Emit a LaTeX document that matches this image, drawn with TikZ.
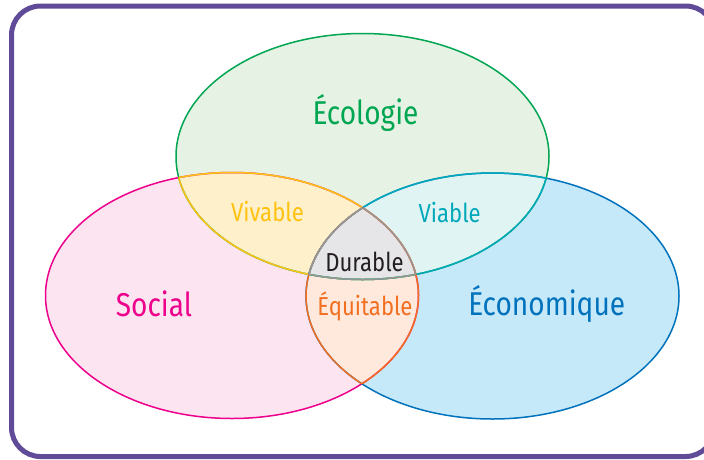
\documentclass[tikz,border=0pt]{standalone}
\usepackage{fontspec}
\setmainfont{Fira Sans}[FakeStretch=0.85]
\definecolor{gfill}{RGB}{230,242,228}
\definecolor{pfill}{RGB}{252,228,240}
\definecolor{bfill}{RGB}{198,233,250}
\definecolor{yfill}{RGB}{255,240,204}
\definecolor{tfill}{RGB}{224,244,243}
\definecolor{ofill}{RGB}{255,233,220}
\definecolor{dfill}{RGB}{230,230,232}
\definecolor{gline}{RGB}{0,166,81}
\definecolor{pline}{RGB}{236,0,140}
\definecolor{bline}{RGB}{0,114,188}
\definecolor{yline}{RGB}{255,194,14}
\definecolor{tline}{RGB}{0,168,186}
\definecolor{oline}{RGB}{242,111,33}
\definecolor{dline}{RGB}{150,150,152}
\definecolor{dtext}{RGB}{35,31,32}
\definecolor{frame}{RGB}{95,75,152}
\begin{document}
\begin{tikzpicture}[x=1pt,y=-1pt,
  edge/.style={line width=1.5pt},
  biglbl/.style={anchor=base,inner sep=0pt,font=\fontsize{33}{40}\selectfont},
  smalllbl/.style={anchor=base,inner sep=0pt,font=\fontsize{26}{32}\selectfont},
  framebox/.style={draw=frame,line width=5pt,rounded corners=29pt}]
\useasboundingbox (0,0) rectangle (704,459);
\clip (0,0) rectangle (704,459);
\fill[white] (0,0) rectangle (704,459);
\def\Gp{(362.5,156.5) ellipse [x radius=186.5pt, y radius=123pt]}
\def\Pp{(232,295.5) ellipse [x radius=186.5pt, y radius=123pt]}
\def\Bp{(492.5,296) ellipse [x radius=186.5pt, y radius=123pt]}
% fills
\fill[pfill] \Pp;
\fill[bfill] \Bp;
\fill[gfill] \Gp;
\begin{scope}\clip \Gp; \fill[yfill] \Pp;\end{scope}
\begin{scope}\clip \Gp; \fill[tfill] \Bp;\end{scope}
\begin{scope}\clip \Pp; \fill[ofill] \Bp;\end{scope}
\begin{scope}\clip \Gp; \clip \Pp; \fill[dfill] \Bp;\end{scope}
% outlines
\draw[edge,pline] \Pp;
\draw[edge,bline] \Bp;
\draw[edge,gline] \Gp;
\begin{scope}\clip \Pp; \draw[edge,yline] \Gp;\end{scope}
\begin{scope}\clip \Gp; \draw[edge,yline] \Pp;\end{scope}
\begin{scope}\clip \Bp; \draw[edge,tline] \Gp;\end{scope}
\begin{scope}\clip \Gp; \draw[edge,tline] \Bp;\end{scope}
\begin{scope}\clip \Bp; \draw[edge,oline] \Pp;\end{scope}
\begin{scope}\clip \Pp; \draw[edge,oline] \Bp;\end{scope}
\begin{scope}\clip \Pp; \clip \Bp; \draw[edge,dline] \Gp;\end{scope}
\begin{scope}\clip \Gp; \clip \Bp; \draw[edge,dline] \Pp;\end{scope}
\begin{scope}\clip \Gp; \clip \Pp; \draw[edge,dline] \Bp;\end{scope}
% labels
\node[biglbl,text=gline] (eco) at (365.5,124) {Écologie};
\node[biglbl,text=pline] (soc) at (154,316.5) {Social};
\node[biglbl,text=bline] (econ) at (546.7,315) {Économique};
\node[smalllbl,text=yline] (viv) at (267.5,221.7) {Vivable};
\node[smalllbl,text=tline] (via) at (449.7,222) {Viable};
\node[smalllbl,text=dtext] (dur) at (364.5,271.7) {Durable};
\node[smalllbl,text=oline] (equ) at (365,315) {Équitable};
% frame
\draw[framebox] (11.5,6) rectangle (714.5,456.5);
\end{tikzpicture}
\end{document}
